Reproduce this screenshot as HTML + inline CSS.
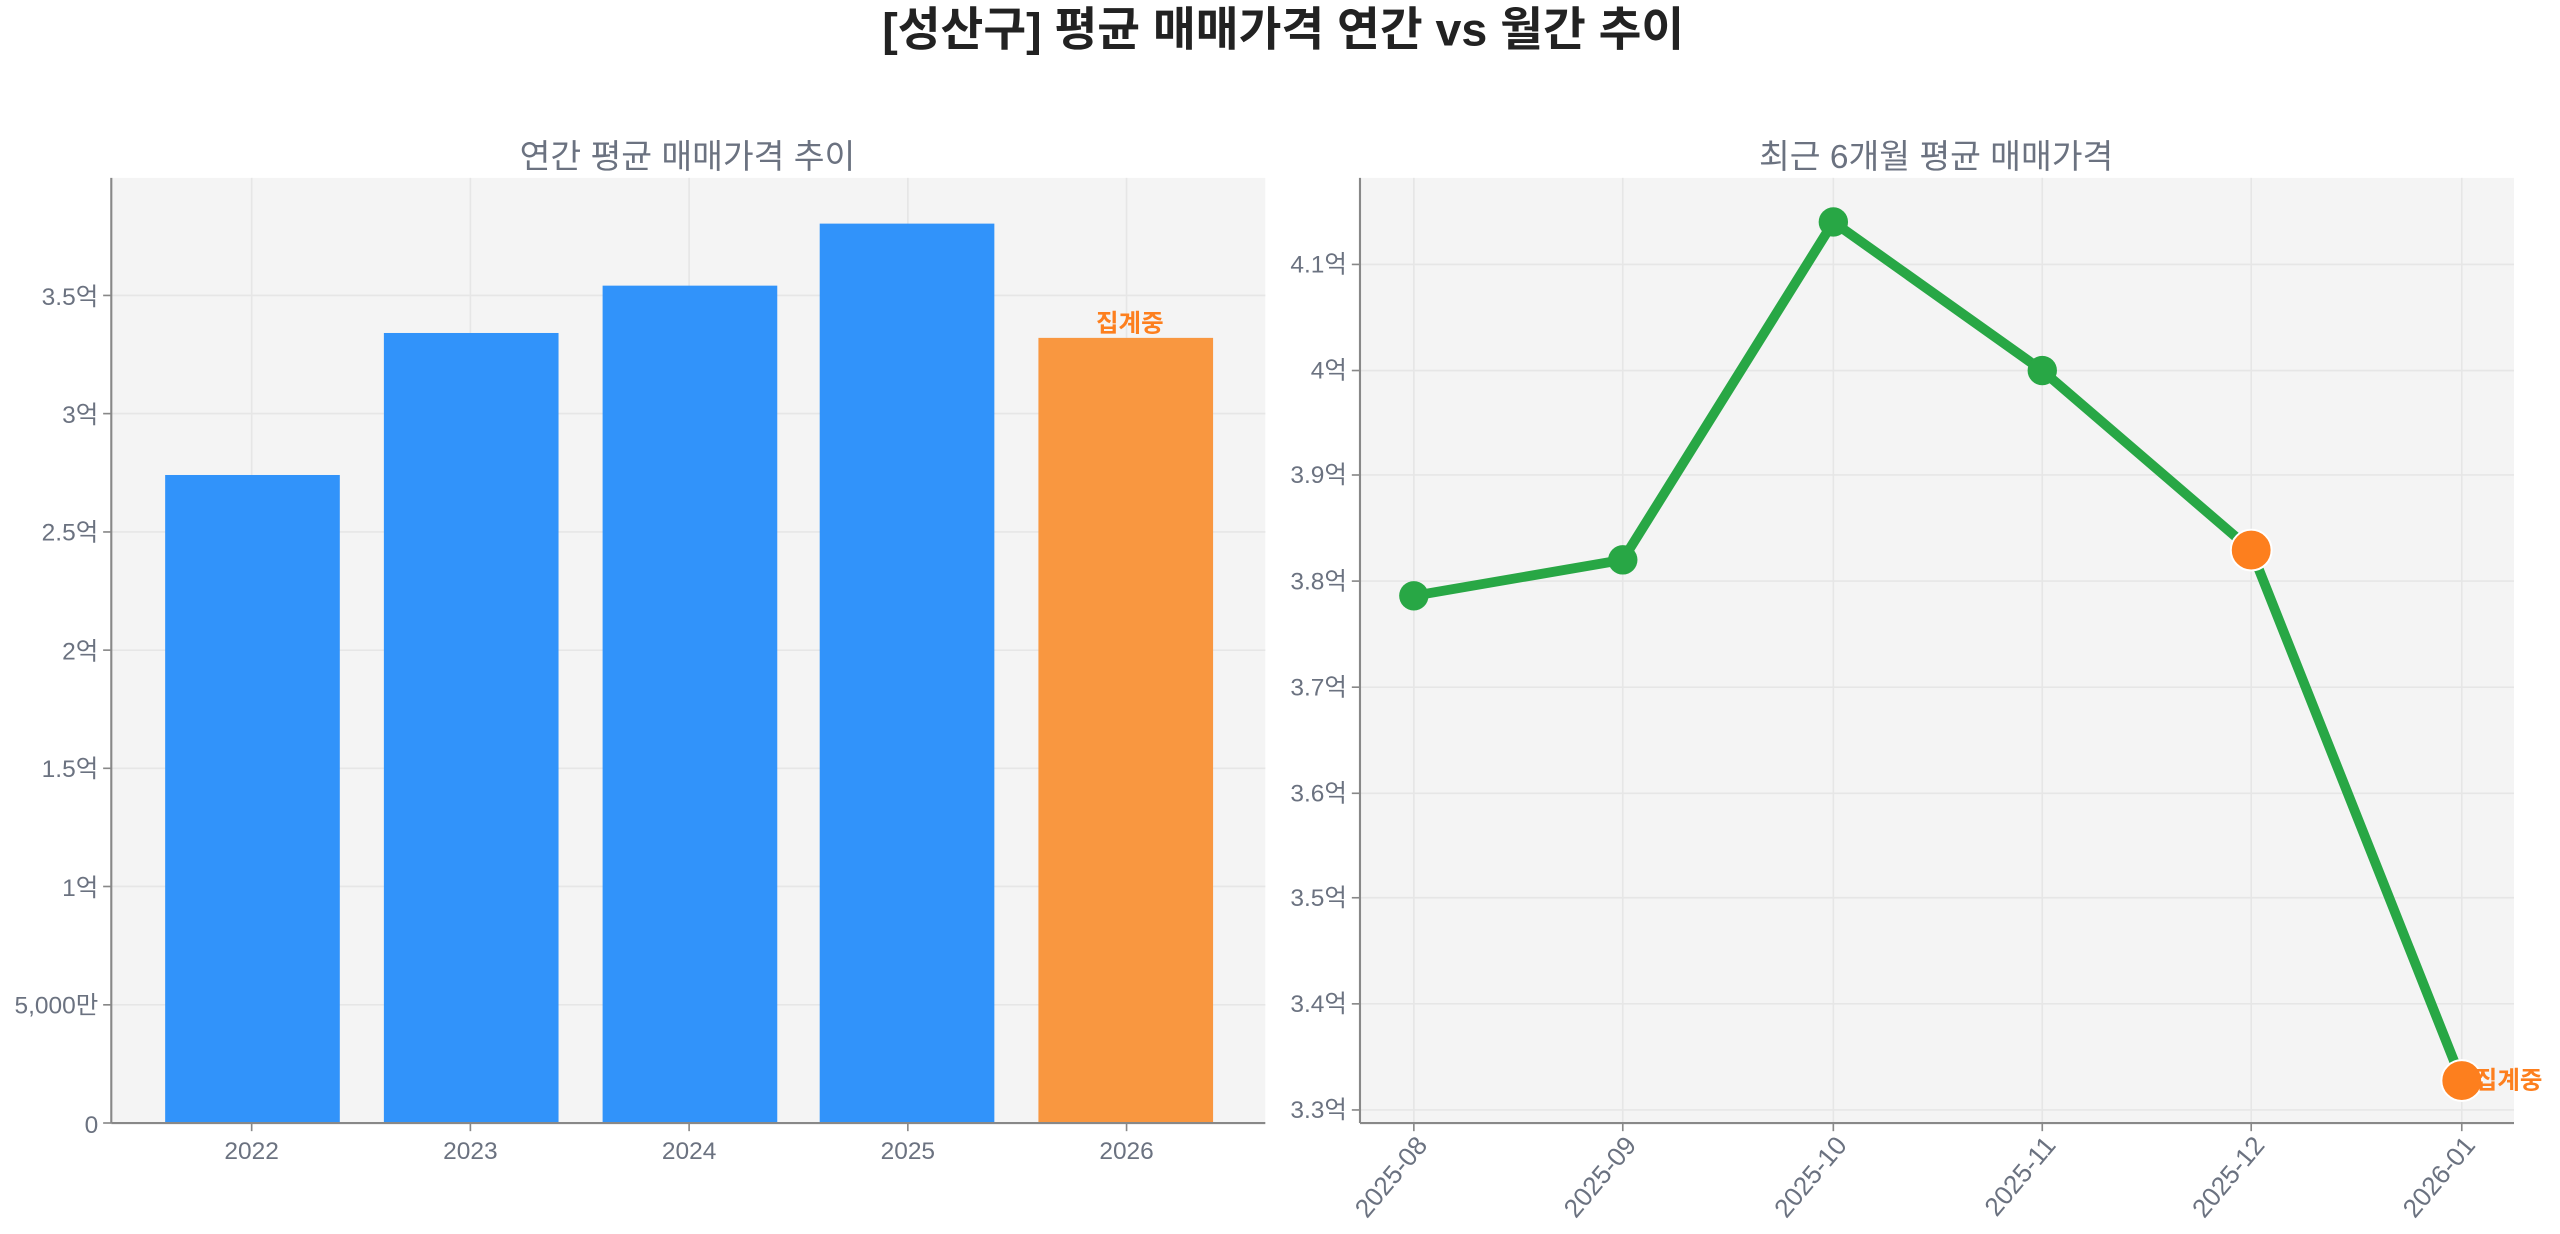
<!DOCTYPE html>
<html><head><meta charset="utf-8"><style>
html,body{margin:0;padding:0;background:#fff;}
svg{display:block;}
text{font-family:"Liberation Sans","Noto Sans CJK KR",sans-serif;}
</style></head><body>
<svg width="2560" height="1234" viewBox="0 0 1568 756" xmlns="http://www.w3.org/2000/svg">
<rect width="1568" height="756" fill="#fff"/>
<text x="786" y="28" text-anchor="middle" font-size="28.5" font-weight="bold" fill="#222">[성산구] 평균 매매가격 연간 vs 월간 추이</text>
<text x="421" y="103" text-anchor="middle" font-size="20.5" fill="#6b7280">연간 평균 매매가격 추이</text>
<text x="1186" y="103" text-anchor="middle" font-size="20.5" fill="#6b7280">최근 6개월 평균 매매가격</text>

<!-- left plot -->
<rect x="68" y="109" width="707" height="579" fill="#f4f4f4"/>
<g stroke="#e6e6e6" stroke-width="1">
<line x1="68" x2="775" y1="615.6" y2="615.6"/><line x1="68" x2="775" y1="543.1" y2="543.1"/>
<line x1="68" x2="775" y1="470.7" y2="470.7"/><line x1="68" x2="775" y1="398.3" y2="398.3"/>
<line x1="68" x2="775" y1="325.9" y2="325.9"/><line x1="68" x2="775" y1="253.4" y2="253.4"/>
<line x1="68" x2="775" y1="181" y2="181"/>
<line x1="154" x2="154" y1="109" y2="688"/><line x1="288" x2="288" y1="109" y2="688"/>
<line x1="422" x2="422" y1="109" y2="688"/><line x1="556" x2="556" y1="109" y2="688"/>
<line x1="690" x2="690" y1="109" y2="688"/>
</g>
<rect x="101" y="291" width="107" height="397" fill="#3193fa"/>
<rect x="235" y="204" width="107" height="484" fill="#3193fa"/>
<rect x="369" y="175" width="107" height="513" fill="#3193fa"/>
<rect x="502" y="137" width="107" height="551" fill="#3193fa"/>
<rect x="636" y="207" width="107" height="481" fill="#f99740"/>
<text x="692" y="203" text-anchor="middle" font-size="15" font-weight="bold" fill="#fd7f1e">집계중</text>
<g stroke="#888" stroke-width="1.3"><line x1="68" y1="109" x2="68" y2="688"/><line x1="68" y1="688" x2="775" y2="688"/></g>
<g stroke="#888" stroke-width="1">
<line x1="63" x2="68" y1="688" y2="688"/><line x1="63" x2="68" y1="615.6" y2="615.6"/><line x1="63" x2="68" y1="543.1" y2="543.1"/><line x1="63" x2="68" y1="470.7" y2="470.7"/><line x1="63" x2="68" y1="398.3" y2="398.3"/><line x1="63" x2="68" y1="325.9" y2="325.9"/><line x1="63" x2="68" y1="253.4" y2="253.4"/><line x1="63" x2="68" y1="181" y2="181"/>
<line x1="154" x2="154" y1="688" y2="693"/><line x1="288" x2="288" y1="688" y2="693"/><line x1="422" x2="422" y1="688" y2="693"/><line x1="556" x2="556" y1="688" y2="693"/><line x1="690" x2="690" y1="688" y2="693"/>
</g>
<g font-size="15" fill="#6b7280" text-anchor="end">
<text x="60" y="694">0</text><text x="60" y="621">5,000만</text><text x="60" y="549">1억</text><text x="60" y="476">1.5억</text><text x="60" y="404">2억</text><text x="60" y="331">2.5억</text><text x="60" y="259">3억</text><text x="60" y="187">3.5억</text>
</g>
<g font-size="15" fill="#6b7280" text-anchor="middle">
<text x="154" y="710">2022</text><text x="288" y="710">2023</text><text x="422" y="710">2024</text><text x="556" y="710">2025</text><text x="690" y="710">2026</text>
</g>

<!-- right plot -->
<rect x="833" y="109" width="707" height="579" fill="#f4f4f4"/>
<g stroke="#e6e6e6" stroke-width="1">
<line x1="833" x2="1540" y1="162" y2="162"/><line x1="833" x2="1540" y1="227" y2="227"/><line x1="833" x2="1540" y1="291" y2="291"/><line x1="833" x2="1540" y1="356" y2="356"/><line x1="833" x2="1540" y1="421" y2="421"/><line x1="833" x2="1540" y1="486" y2="486"/><line x1="833" x2="1540" y1="550" y2="550"/><line x1="833" x2="1540" y1="615" y2="615"/><line x1="833" x2="1540" y1="680" y2="680"/>
<line x1="866" x2="866" y1="109" y2="688"/><line x1="994" x2="994" y1="109" y2="688"/><line x1="1123" x2="1123" y1="109" y2="688"/><line x1="1251" x2="1251" y1="109" y2="688"/><line x1="1379" x2="1379" y1="109" y2="688"/><line x1="1508" x2="1508" y1="109" y2="688"/>
</g>
<polyline points="866,365 994,343 1123,136 1251,227 1379,337 1508,662" fill="none" stroke="#28a745" stroke-width="6" stroke-linejoin="round"/>
<circle cx="866" cy="365" r="9" fill="#28a745"/><circle cx="994" cy="343" r="9" fill="#28a745"/><circle cx="1123" cy="136" r="9" fill="#28a745"/><circle cx="1251" cy="227" r="9" fill="#28a745"/>
<circle cx="1379" cy="337" r="12.5" fill="#fd7f1e" stroke="#fff" stroke-width="1.2"/>
<circle cx="1508" cy="662" r="12.5" fill="#fd7f1e" stroke="#fff" stroke-width="1.2"/>
<text x="1516" y="667" font-size="15" font-weight="bold" fill="#fd7f1e">집계중</text>
<g stroke="#888" stroke-width="1.3"><line x1="833" y1="109" x2="833" y2="688"/><line x1="833" y1="688" x2="1540" y2="688"/></g>
<g stroke="#888" stroke-width="1">
<line x1="828" x2="833" y1="162" y2="162"/><line x1="828" x2="833" y1="227" y2="227"/><line x1="828" x2="833" y1="291" y2="291"/><line x1="828" x2="833" y1="356" y2="356"/><line x1="828" x2="833" y1="421" y2="421"/><line x1="828" x2="833" y1="486" y2="486"/><line x1="828" x2="833" y1="550" y2="550"/><line x1="828" x2="833" y1="615" y2="615"/><line x1="828" x2="833" y1="680" y2="680"/>
<line x1="866" x2="866" y1="688" y2="693"/><line x1="994" x2="994" y1="688" y2="693"/><line x1="1123" x2="1123" y1="688" y2="693"/><line x1="1251" x2="1251" y1="688" y2="693"/><line x1="1379" x2="1379" y1="688" y2="693"/><line x1="1508" x2="1508" y1="688" y2="693"/>
</g>
<g font-size="15" fill="#6b7280" text-anchor="end">
<text x="825" y="167">4.1억</text><text x="825" y="232">4억</text><text x="825" y="296">3.9억</text><text x="825" y="361">3.8억</text><text x="825" y="426">3.7억</text><text x="825" y="491">3.6억</text><text x="825" y="555">3.5억</text><text x="825" y="620">3.4억</text><text x="825" y="685">3.3억</text>
</g>
<g font-size="16" fill="#6b7280" text-anchor="end">
<text transform="translate(875,702) rotate(-50)">2025-08</text>
<text transform="translate(1003,702) rotate(-50)">2025-09</text>
<text transform="translate(1132,702) rotate(-50)">2025-10</text>
<text transform="translate(1260,702) rotate(-50)">2025-11</text>
<text transform="translate(1388,702) rotate(-50)">2025-12</text>
<text transform="translate(1517,702) rotate(-50)">2026-01</text>
</g>
</svg>
</body></html>
